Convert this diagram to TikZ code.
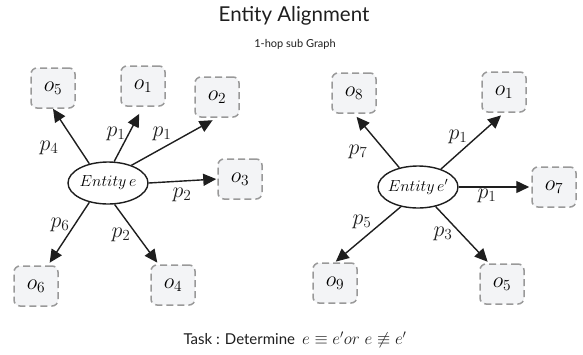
\RequirePackage{fix-cm}
\documentclass[tikz,border=0pt]{standalone}
\usepackage{fontspec}
\setsansfont{Lato}
\usetikzlibrary{arrows.meta,shapes.geometric}
\definecolor{boxgray}{HTML}{999999}
\definecolor{boxfill}{HTML}{F3F4F6}
\definecolor{ink}{HTML}{1E1E1E}
\begin{document}
\begin{tikzpicture}[x=1pt,y=-1pt,
  obj/.style={draw=boxgray, fill=boxfill, line width=1.5pt, dash pattern=on 7pt off 4pt,
    rounded corners=6pt, minimum width=44pt, minimum height=40pt, inner sep=0pt,
    font=\fontsize{22}{26}\selectfont},
  ent/.style={draw=ink, fill=white, ellipse, line width=1.4pt, minimum width=80pt, minimum height=42pt,
    inner xsep=-7pt, inner ysep=0pt, font=\fontsize{16}{19}\selectfont},
  rel/.style={draw=ink, line width=1.4pt, -{Triangle[length=13pt,width=12pt]}},
  lab/.style={inner sep=0pt, font=\fontsize{22}{26}\selectfont, text=ink},
]
\useasboundingbox (0,0) rectangle (583,354);
\node[font=\sffamily\fontsize{20.5}{24}\selectfont, text=ink] (title) at (294,16) {Entity Alignment};
\node[font=\sffamily\fontsize{11}{13}\selectfont, text=ink] (sub) at (295,44) {1-hop sub Graph};
\node[text=ink, inner sep=0pt] (task) at (295,340) {\sffamily\fontsize{15}{18}\selectfont Task : Determine\hspace{7pt}\rmfamily\fontsize{17}{20}\selectfont$e\equiv e'or\; e\not\equiv e'$};

% left graph
\node[ent] (e) at (108,183) {$Entity\,e$};
\node[obj] (a5) at (53,88) {$o_5$};
\node[obj] (a1) at (143,86) {$o_1$};
\node[obj] (a2) at (217,97) {$o_2$};
\node[obj] (a3) at (240,179) {$o_3$};
\node[obj] (a6) at (36,286) {$o_6$};
\node[obj] (a4) at (173,285) {$o_4$};
\draw[rel] (e.134) -- (a5.south);
\draw[rel, shorten >=8pt] (e.74) -- (a1.south);
\draw[rel, shorten >=5pt] (e.37) -- (a2.south);
\draw[rel, shorten >=1pt] (e.east) -- (a3.west);
\draw[rel, shorten >=3pt] (e.226) -- (a6.60);
\draw[rel, shorten >=2pt] (e.-73) -- (a4.125);
\node[lab] (l4) at (49,148) {$p_4$};
\node[lab] (l1a) at (116,134) {$p_1$};
\node[lab] (l1b) at (162,134) {$p_1$};
\node[lab] (l2a) at (182,195) {$p_2$};
\node[lab] (l6) at (60,225) {$p_6$};
\node[lab] (l2b) at (121,235) {$p_2$};

% right graph
\node[ent] (f) at (418,187) {$Entity\,e'$};
\node[obj] (b8) at (354,93) {$o_8$};
\node[obj] (b1) at (504,92) {$o_1$};
\node[obj] (b7) at (554,187) {$o_7$};
\node[obj] (b9) at (335,283) {$o_9$};
\node[obj] (b5) at (502,284) {$o_5$};
\draw[rel, shorten >=4pt] (f.134) -- (b8.south);
\draw[rel, shorten >=4pt] (f.38) -- (b1.south);
\draw[rel, shorten >=2pt] (f.east) -- (b7.west);
\draw[rel, shorten >=1pt] (f.229) -- (b9.north);
\draw[rel, shorten >=2pt] (f.-48) -- (b5.122);
\node[lab] (m7) at (358,152) {$p_7$};
\node[lab] (m1a) at (458,137) {$p_1$};
\node[lab] (m1b) at (487,196) {$p_1$};
\node[lab] (m5) at (362,222) {$p_5$};
\node[lab] (m3) at (443,234) {$p_3$};
\end{tikzpicture}
\end{document}
